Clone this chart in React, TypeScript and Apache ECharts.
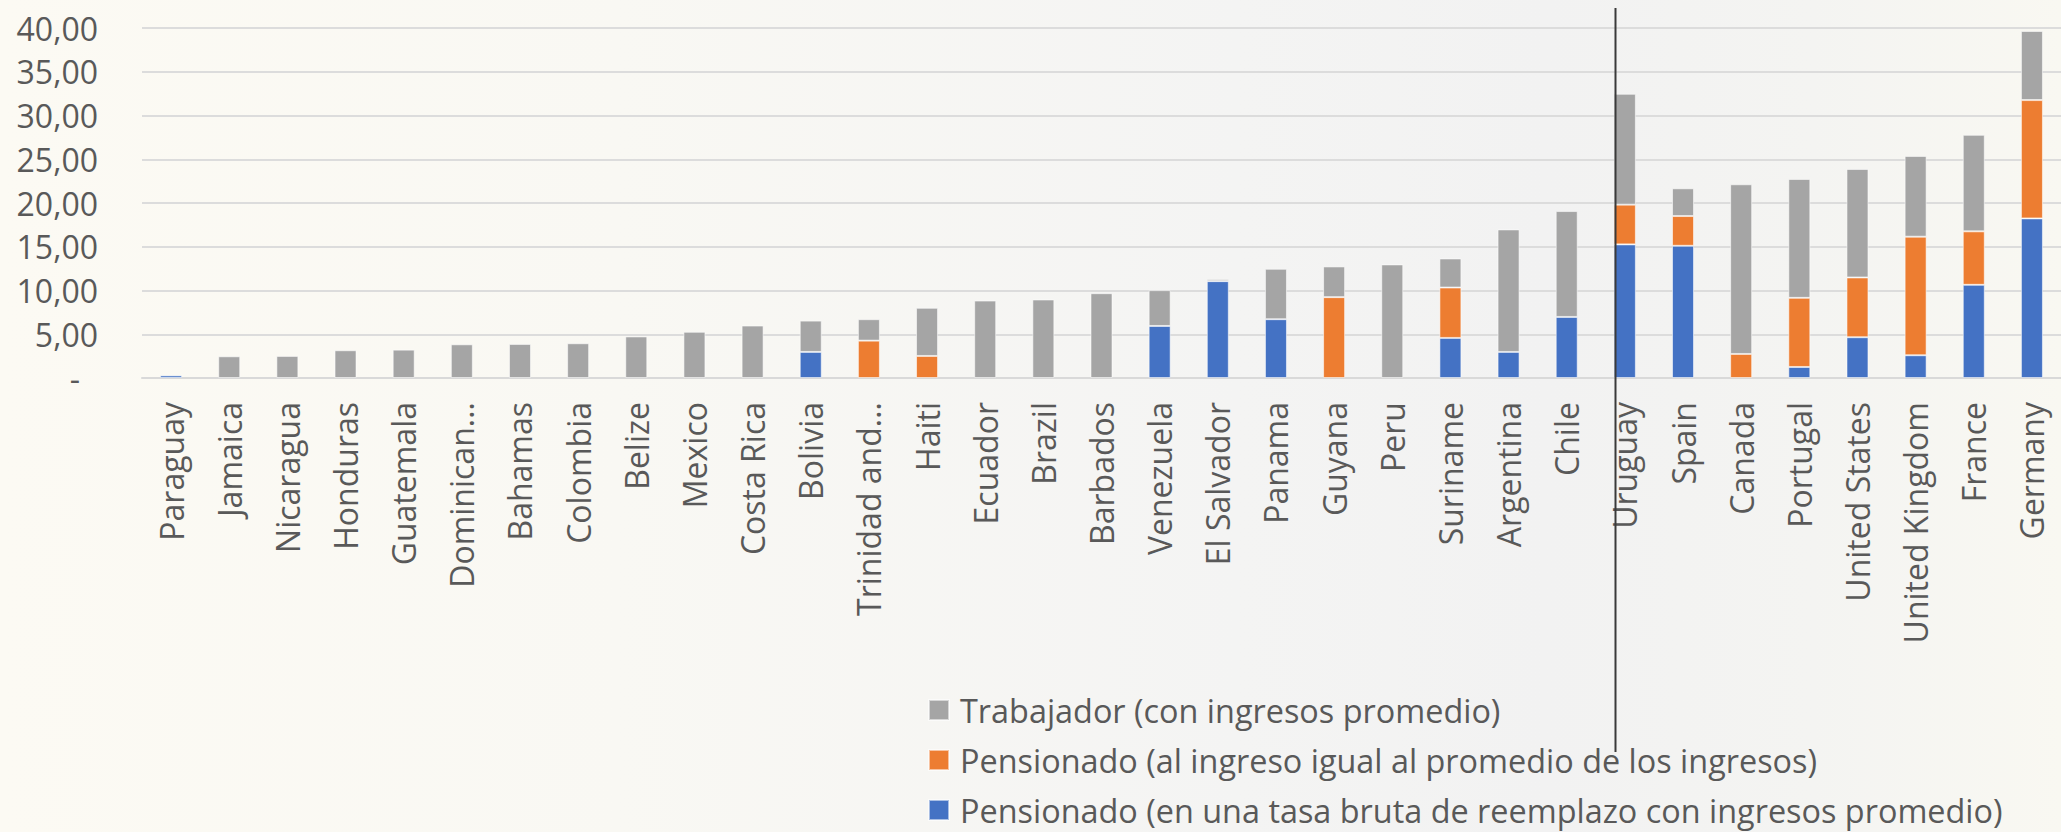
import React, { useEffect, useRef } from "react";
import * as echarts from "echarts";

const categories = [
  "Paraguay", "Jamaica", "Nicaragua", "Honduras", "Guatemala", "Dominican...",
  "Bahamas", "Colombia", "Belize", "Mexico", "Costa Rica", "Bolivia",
  "Trinidad and...", "Haiti", "Ecuador", "Brazil", "Barbados", "Venezuela",
  "El Salvador", "Panama", "Guyana", "Peru", "Suriname", "Argentina", "Chile",
  "Uruguay", "Spain", "Canada", "Portugal", "United States", "United Kingdom",
  "France", "Germany",
];

const seriesNames = [
  "Trabajador (con ingresos promedio)",
  "Pensionado (al ingreso igual al promedio de los ingresos)",
  "Pensionado (en una tasa bruta de reemplazo con ingresos promedio)",
];

// bottom segment (blue)
const pensionadoTasa = [
  0.3, null, null, null, null, null, null, null, null, null, null, 2.98,
  null, null, null, null, null, 5.95, 11.07, 6.72, null, null, 4.58, 2.98, 6.98,
  15.27, 15.11, null, 1.26, 4.66, 2.6, 10.65, 18.24,
];

// middle segment (orange)
const pensionadoIngreso = [
  null, null, null, null, null, null, null, null, null, null, null, null,
  4.27, 2.52, null, null, null, null, null, null, 9.24, null, 5.76, null, null,
  4.54, 3.4, 2.75, 7.9, 6.83, 13.55, 6.11, 13.52,
];

// top segment (gray)
const trabajador = [
  null, 2.48, 2.52, 3.17, 3.24, 3.85, 3.89, 3.97, 4.75, 5.28, 5.99, 3.58,
  2.45, 5.5, 8.85, 8.97, 9.69, 4.09, 0.23, 5.76, 3.51, 12.98, 3.32, 14.0, 12.1,
  12.67, 3.17, 19.39, 13.59, 12.4, 9.23, 11.03, 7.9,
];

const FONT = "'Open Sans', 'Noto Sans', sans-serif";
const TEXT = "#595959";

export default function App() {
  const ref = useRef<HTMLDivElement>(null);

  useEffect(() => {
    if (!ref.current) return;
    const chart = echarts.init(ref.current, null, { renderer: "svg" });
    const barStyle = (color: string) => ({
      color,
      borderColor: "rgba(255,255,255,0.55)",
      borderWidth: 1,
    });
    chart.setOption({
      animation: false,
      textStyle: { fontFamily: FONT },
      grid: { left: 142, right: -12, top: 28, height: 350, containLabel: false },
      legend: {
        orient: "vertical",
        left: 928,
        top: 694,
        padding: 0,
        itemWidth: 20,
        itemHeight: 20,
        itemGap: 18,
        icon: "rect",
        data: [seriesNames[0], seriesNames[1], seriesNames[2]],
        textStyle: {
          fontFamily: FONT,
          fontSize: 32.4,
          lineHeight: 32,
          color: TEXT,
          padding: [0, 0, 0, 6],
        },
      },
      xAxis: {
        type: "category",
        data: categories,
        axisTick: { show: false },
        axisLine: { lineStyle: { color: "#d9d9d9", width: 2 } },
        axisLabel: {
          rotate: 90,
          interval: 0,
          margin: 24,
          fontSize: 32,
          color: TEXT,
          fontFamily: FONT,
        },
      },
      yAxis: {
        type: "value",
        min: 0,
        max: 40,
        interval: 5,
        axisLine: { show: false },
        axisTick: { show: false },
        splitLine: { lineStyle: { color: "#dcdcdc", width: 2 } },
        axisLabel: {
          margin: 44,
          fontSize: 32,
          color: TEXT,
          fontFamily: FONT,
          formatter: (v: number) =>
            v === 0 ? "{z|-}" : v.toFixed(2).replace(".", ","),
          rich: {
            z: { fontSize: 32, color: TEXT, fontFamily: FONT, padding: [0, 18, 0, 0] },
          },
        },
      },
      series: [
        {
          name: seriesNames[2],
          type: "bar",
          stack: "total",
          barWidth: 22,
          data: pensionadoTasa,
          itemStyle: barStyle("#4472C4"),
        },
        {
          name: seriesNames[1],
          type: "bar",
          stack: "total",
          barWidth: 22,
          data: pensionadoIngreso,
          itemStyle: barStyle("#ED7D31"),
        },
        {
          name: seriesNames[0],
          type: "bar",
          stack: "total",
          barWidth: 22,
          data: trabajador,
          itemStyle: barStyle("#A5A5A5"),
        },
      ],
      graphic: [
        {
          type: "line",
          silent: true,
          shape: { x1: 1615.5, y1: 8, x2: 1615.5, y2: 752 },
          style: { stroke: "#3a3a3a", lineWidth: 2 },
          z: 10,
        },
      ],
    });
    return () => chart.dispose();
  }, []);

  return (
    <div
      ref={ref}
      style={{
        position: "absolute",
        left: 0,
        top: 0,
        width: 2061,
        height: 832,
        background:
          "linear-gradient(to right, #fcfaf3 0%, #f9f8f3 30%, #f4f4f3 60%, #f2f2f2 75%, #f4f4f2 88%, #f9f8f2 100%)",
      }}
    />
  );
}
